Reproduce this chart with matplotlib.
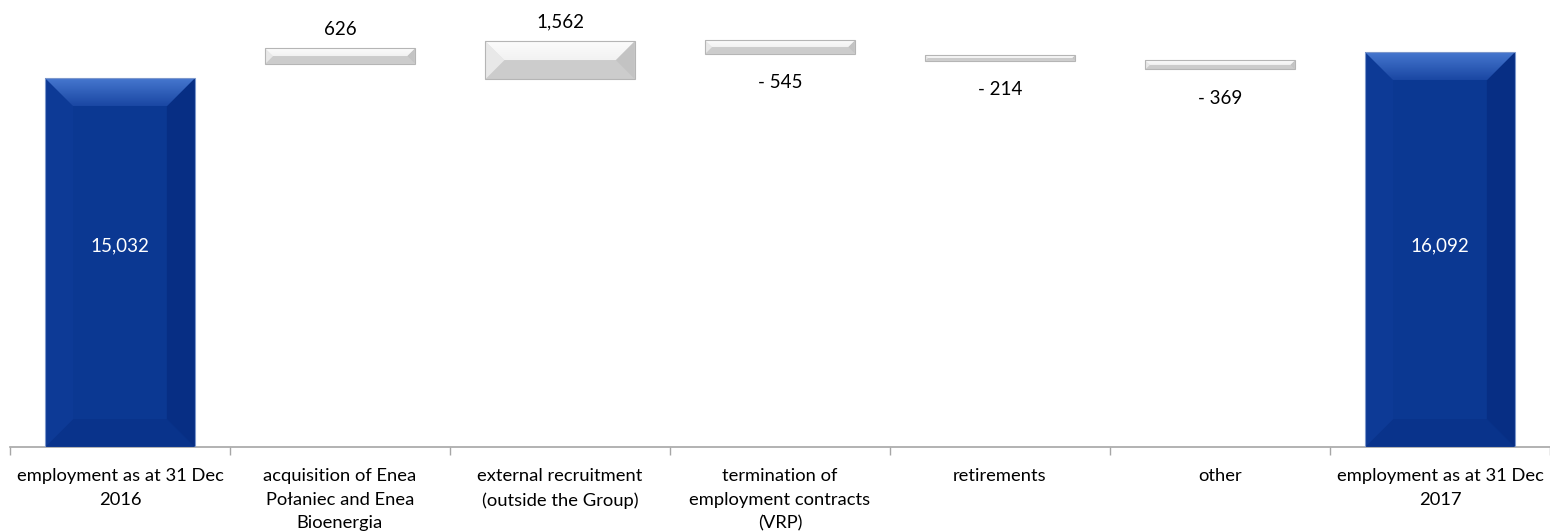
import matplotlib.pyplot as plt
import numpy as np
from matplotlib.patches import Polygon

categories = ['employment as at 31 Dec\n2016',
              'acquisition of Enea\nPołaniec and Enea\nBioenergia',
              'external recruitment\n(outside the Group)',
              'termination of\nemployment contracts\n(VRP)',
              'retirements',
              'other',
              'employment as at 31 Dec\n2017']
changes = [15032, 626, 1562, -545, -214, -369, 16092]
# bottom of each bar as it sits in the source chart (totals start at zero)
bases = [0, 15620, 14990, 16030, 15750, 15390, 0]
is_total = [True, False, False, False, False, False, True]
value_labels = ['15,032', '626', '1,562', '- 545', '- 214', '- 369', '16,092']

BLUE = {'body': '#0b3892', 'top': ('#4677cf', '#1a47a3'), 'left': '#0d3a96',
        'right': '#072e84', 'bottom': '#09338b', 'edge': '#7d98cc'}
GREY = {'body': '#d8d8d8', 'top': ('#fcfcfc', '#f2f2f2'), 'left': '#e8e8e8',
        'right': '#c3c3c3', 'bottom': '#cccccc', 'edge': '#b5b5b5'}

plt.rcParams['font.family'] = ['Lato', 'DejaVu Sans']


def add_bevel(ax, patch, style, size_px=28):
    # work in pixels so the bevel keeps its shape, then go back to data
    to_px = ax.transData
    x0, y0 = to_px.transform((patch.get_x(), patch.get_y()))
    x1, y1 = to_px.transform((patch.get_x() + patch.get_width(), patch.get_y() + patch.get_height()))
    b = min(size_px, (y1 - y0) / 2, (x1 - x0) / 2)
    inv = to_px.inverted()

    def poly(pts, color, z=3):
        p = Polygon(inv.transform(pts), closed=True, facecolor=color, edgecolor='none', zorder=z)
        ax.add_patch(p)
        return p

    poly([(x0, y0), (x1, y0), (x1 - b, y0 + b), (x0 + b, y0 + b)], style['bottom'])
    poly([(x0, y0), (x0, y1), (x0 + b, y1 - b), (x0 + b, y0 + b)], style['left'])
    poly([(x1, y0), (x1, y1), (x1 - b, y1 - b), (x1 - b, y0 + b)], style['right'])
    top = poly([(x0, y1), (x1, y1), (x1 - b, y1 - b), (x0 + b, y1 - b)], 'none')

    # vertical gradient on the top face
    c_hi = np.array(plt.matplotlib.colors.to_rgb(style['top'][0]))
    c_lo = np.array(plt.matplotlib.colors.to_rgb(style['top'][1]))
    t = np.linspace(0, 1, 64)[:, None]
    grad = (c_hi * (1 - t) + c_lo * t)[:, None, :]
    (dx0, dy1), (dx1, dy0) = inv.transform([(x0, y1), (x1, y1 - b)])
    im = ax.imshow(grad, extent=(dx0, dx1, dy0, dy1), origin='upper', aspect='auto', zorder=3.5)
    im.set_clip_path(top)

    # thin outline
    ax.add_patch(Polygon(inv.transform([(x0, y0), (x1, y0), (x1, y1), (x0, y1)]), closed=True,
                         facecolor='none', edgecolor=style['edge'], linewidth=0.8, zorder=4))


fig = plt.figure(figsize=(15.5, 5.32), dpi=100)
ax = fig.add_axes([10 / 1550, (532 - 447) / 532, 1540 / 1550, 447 / 532])
ax.set_xlim(-0.5, len(categories) - 0.5)
ax.set_ylim(0, 18222)
ax.set_autoscale_on(False)

x = np.arange(len(categories))
heights = np.abs(changes)
colors = [BLUE['body'] if tot else GREY['body'] for tot in is_total]
bars = ax.bar(x, heights, bottom=bases, width=0.68, color=colors, zorder=2)

for bar, tot in zip(bars, is_total):
    add_bevel(ax, bar, BLUE if tot else GREY)

for i, (bar, lab) in enumerate(zip(bars, value_labels)):
    cx = bar.get_x() + bar.get_width() / 2
    if is_total[i]:
        ax.text(cx, 0.45, lab, transform=ax.get_xaxis_transform(), color='white',
                ha='center', va='center', fontsize=13.5, zorder=6)
    elif changes[i] > 0:
        ax.annotate(lab, (cx, bar.get_y() + bar.get_height()), xytext=(0, 19),
                    textcoords='offset pixels', ha='center', va='center', fontsize=13.5)
    else:
        ax.annotate(lab, (cx, bar.get_y()), xytext=(0, -29),
                    textcoords='offset pixels', ha='center', va='center', fontsize=13.5)

for side in ['top', 'right', 'left']:
    ax.spines[side].set_visible(False)
ax.spines['bottom'].set_color('#a6a6a6')
ax.spines['bottom'].set_linewidth(1.2)
ax.set_yticks([])
ax.set_xticks(x)
ax.set_xticklabels(categories, fontsize=13.2)
for lbl in ax.get_xticklabels():
    lbl.set_linespacing(1.6)
ax.tick_params(axis='x', which='major', length=0, pad=15)
ax.set_xticks(np.arange(len(categories) + 1) - 0.5, minor=True)
ax.tick_params(axis='x', which='minor', length=6, color='#a6a6a6', width=1)

ax.set_xlim(-0.5, len(categories) - 0.5)
ax.set_ylim(0, 18222)

fig.savefig('out.png', dpi=100)
